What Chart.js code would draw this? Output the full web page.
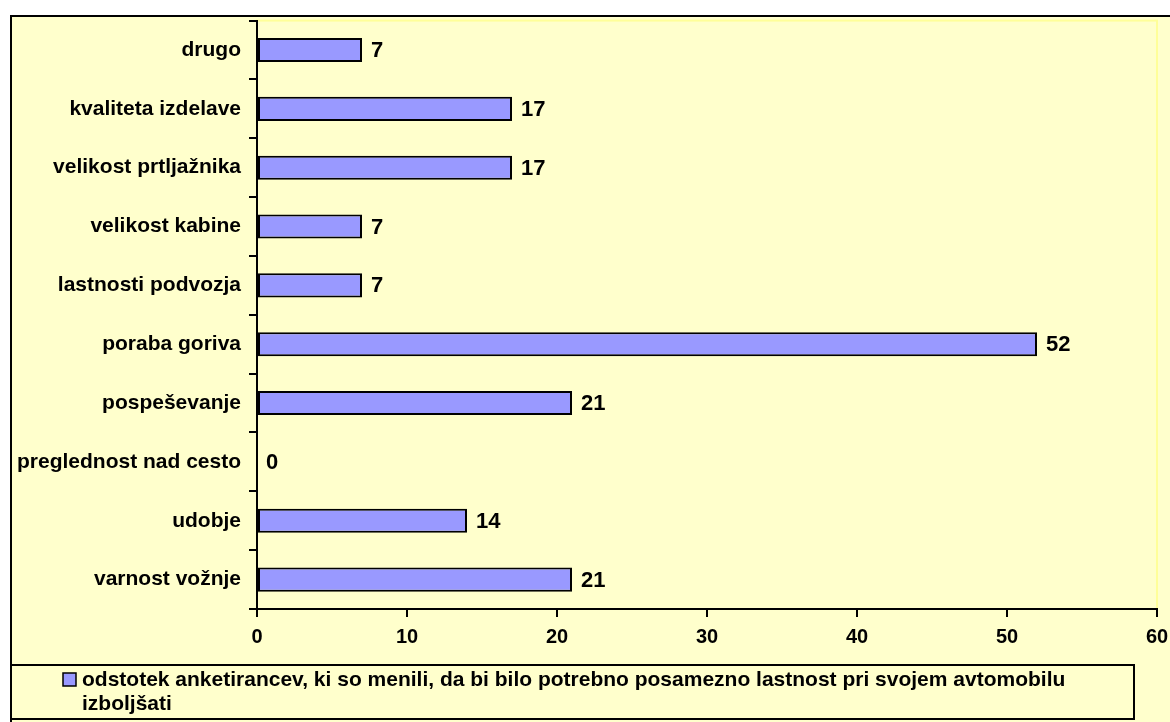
<!DOCTYPE html>
<html>
<head>
<meta charset="utf-8">
<script src="https://cdn.jsdelivr.net/npm/chart.js@4"></script>
<style>
  body { margin: 0; background: #ffffff; }
  #wrap { width: 1170px; height: 722px; }
</style>
</head>
<body>
<div id="wrap"><canvas id="myChart" width="1170" height="722"></canvas></div>
<script>
// Categories (top to bottom) and percentages
const categories = [
  "drugo",
  "kvaliteta izdelave",
  "velikost prtljažnika",
  "velikost kabine",
  "lastnosti podvozja",
  "poraba goriva",
  "pospeševanje",
  "preglednost nad cesto",
  "udobje",
  "varnost vožnje"
];
const values = [7, 17, 17, 7, 7, 52, 21, 0, 14, 21];
const seriesName = "odstotek anketirancev, ki so menili, da bi bilo potrebno posamezno lastnost pri svojem avtomobilu izboljšati";
const xTicks = [0, 10, 20, 30, 40, 50, 60];

const fontFamily = "'Liberation Sans', Arial, sans-serif";
const barColor = "#9999FF";
const paper = "#FFFFCC";

// Background, outer frame and plot-area outline
const framePlugin = {
  id: "frame",
  beforeDraw(chart) {
    const ctx = chart.ctx;
    const area = chart.chartArea;
    ctx.save();
    ctx.fillStyle = "#ffffff";
    ctx.fillRect(0, 0, chart.width, chart.height);
    ctx.fillStyle = paper;
    ctx.fillRect(11, 16, chart.width - 11, chart.height - 16);
    ctx.strokeStyle = "#000000";
    ctx.lineWidth = 2;
    ctx.beginPath();
    ctx.moveTo(11, chart.height + 2);
    ctx.lineTo(11, 16);
    ctx.lineTo(chart.width + 2, 16);
    ctx.stroke();
    ctx.strokeStyle = "#FFFF99";
    ctx.lineWidth = 2;
    ctx.strokeRect(area.left, area.top, area.right - area.left, area.bottom - area.top);
    ctx.restore();
  }
};

// Value labels at the end of each bar
const valueLabels = {
  id: "valueLabels",
  afterDatasetsDraw(chart) {
    const ctx = chart.ctx;
    const meta = chart.getDatasetMeta(0);
    ctx.save();
    ctx.fillStyle = "#000000";
    ctx.font = "bold 22px " + fontFamily;
    ctx.textAlign = "left";
    ctx.textBaseline = "middle";
    meta.data.forEach((bar, i) => {
      ctx.fillText(String(values[i]), bar.x + 9, bar.y + 1);
    });
    ctx.restore();
  }
};

// Boxed legend under the axis, wrapped to two lines
const boxLegend = {
  id: "boxLegend",
  afterDraw(chart) {
    const ctx = chart.ctx;
    const left = 11, top = 665, right = 1134, bottom = 719;
    ctx.save();
    ctx.fillStyle = paper;
    ctx.fillRect(left, top, right - left, bottom - top);
    ctx.strokeStyle = "#000000";
    ctx.lineWidth = 2;
    ctx.strokeRect(left, top, right - left, bottom - top);

    ctx.fillStyle = barColor;
    ctx.fillRect(63, 673, 13, 13);
    ctx.lineWidth = 1.5;
    ctx.strokeRect(63, 673, 13, 13);

    ctx.fillStyle = "#000000";
    ctx.font = "bold 21px " + fontFamily;
    ctx.textAlign = "left";
    ctx.textBaseline = "middle";
    const words = seriesName.split(" ");
    const maxW = right - 82 - 20;
    let line = "";
    const lines = [];
    words.forEach(w => {
      const test = line ? line + " " + w : w;
      if (ctx.measureText(test).width > maxW && line) {
        lines.push(line);
        line = w;
      } else {
        line = test;
      }
    });
    lines.push(line);
    lines.forEach((t, i) => ctx.fillText(t, 82, 680 + i * 24));
    ctx.restore();
  }
};

new Chart(document.getElementById("myChart"), {
  type: "bar",
  data: {
    labels: categories,
    datasets: [{
      label: seriesName,
      data: values,
      backgroundColor: barColor,
      borderColor: "#000000",
      borderWidth: ctx => (values[ctx.dataIndex] === 0 ? 0 : 2),
      borderSkipped: false,
      barPercentage: 0.41,
      categoryPercentage: 1.0
    }]
  },
  options: {
    indexAxis: "y",
    responsive: false,
    animation: false,
    layout: { padding: { left: 0, top: 17, right: 0, bottom: 63 } },
    plugins: {
      legend: { display: false },
      tooltip: { enabled: false }
    },
    scales: {
      x: {
        min: 0,
        max: 60,
        afterBuildTicks(scale) {
          scale.ticks = xTicks.map(v => ({ value: v }));
        },
        afterFit(scale) {
          scale.height = 50;
          scale.paddingLeft = 0;
          scale.paddingRight = 13;
        },
        border: { color: "#000000", width: 2 },
        grid: { drawOnChartArea: false, color: "#000000", lineWidth: 2, tickLength: 8 },
        ticks: {
          color: "#000000",
          padding: 8,
          font: { family: fontFamily, size: 20, weight: "bold" }
        }
      },
      y: {
        afterFit(scale) { scale.width = 257; },
        border: { color: "#000000", width: 2 },
        grid: { drawOnChartArea: false, color: "#000000", lineWidth: 2, tickLength: 8, offset: true },
        ticks: {
          color: "#000000",
          padding: 8,
          font: { family: fontFamily, size: 21, weight: "bold" }
        }
      }
    }
  },
  plugins: [framePlugin, valueLabels, boxLegend]
});
</script>
</body>
</html>
